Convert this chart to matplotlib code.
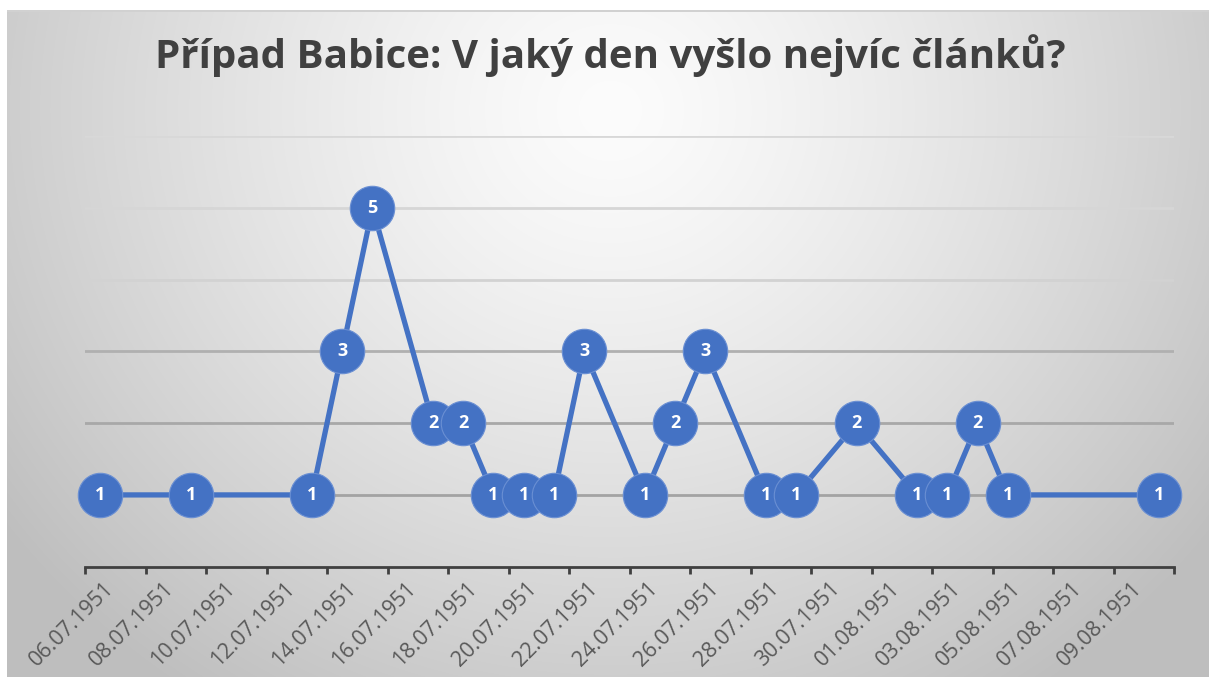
import numpy as np
import matplotlib
matplotlib.use("Agg")
import matplotlib.pyplot as plt
import matplotlib.dates as mdates
import matplotlib.transforms as mtransforms
from datetime import datetime, timedelta

# data
dates = ["06.07.1951", "09.07.1951", "13.07.1951", "14.07.1951", "15.07.1951",
         "17.07.1951", "18.07.1951", "19.07.1951", "20.07.1951", "21.07.1951",
         "22.07.1951", "24.07.1951", "25.07.1951", "26.07.1951", "28.07.1951",
         "29.07.1951", "31.07.1951", "02.08.1951", "03.08.1951", "04.08.1951",
         "05.08.1951", "10.08.1951"]
counts = [1, 1, 1, 3, 5, 2, 2, 1, 1, 1, 3, 1, 2, 3, 1, 1, 2, 1, 1, 2, 1, 1]

tick_labels = ["06.07.1951", "08.07.1951", "10.07.1951", "12.07.1951", "14.07.1951",
               "16.07.1951", "18.07.1951", "20.07.1951", "22.07.1951", "24.07.1951",
               "26.07.1951", "28.07.1951", "30.07.1951", "01.08.1951", "03.08.1951",
               "05.08.1951", "07.08.1951", "09.08.1951", "11.08.1951"]

title = "Případ Babice: V jaký den vyšlo nejvíc článků?"

BLUE = "#4472C4"
FONT = "Open Sans"


def parse(s):
    return datetime.strptime(s, "%d.%m.%Y")


# points sit in the middle of their day
x = mdates.date2num([parse(d) + timedelta(hours=12) for d in dates])
ticks = mdates.date2num([parse(t) for t in tick_labels])

W, H = 1209, 677
fig = plt.figure(figsize=(W / 100, H / 100), dpi=100)
fig.patch.set_facecolor("white")

# gradient background of the chart area
bg = fig.add_axes([0, 0, 1, 1], zorder=0)
yy, xx = np.mgrid[0:H, 0:W]
d = np.sqrt(((xx - 610) / 660.0) ** 2 + ((yy - 110) / 620.0) ** 2)
v = np.clip(252 - 52 * d ** 1.3, 190, 252) / 255.0
img = np.dstack([v, v, v])
img[:10, :, :] = 1.0
img[:, :7, :] = 1.0
img[10:12, 7:, :] = 0.82
bg.imshow(img, extent=[0, W, H, 0], aspect="auto", interpolation="bilinear")
bg.set_xlim(0, W)
bg.set_ylim(H, 0)
bg.axis("off")

ax = fig.add_axes([85 / W, 1 - 566.7 / H, (1174.3 - 85) / W, (566.7 - 136) / H], zorder=1)
ax.patch.set_alpha(0)

ax.set_xlim(ticks[0], ticks[-1])
ax.set_ylim(0, 6)

grid_colors = ["#a3a3a3", "#a8a8a8", "#b0b0b0", "#d2d2d2", "#d6d6d6", "#d8d8d8"]
for lvl, c in zip(range(1, 7), grid_colors):
    ax.axhline(lvl, color=c, lw=2, zorder=1)

ax.plot(x, counts, color=BLUE, lw=3.8, zorder=2, solid_capstyle="round", clip_on=False)
ax.plot(x, counts, "o", ms=32, color=BLUE, mec="#6a8fd3", mew=0.8, zorder=3, clip_on=False)
for xi, c in zip(x, counts):
    ax.text(xi, c, str(c), color="white", fontsize=13, fontweight="bold",
            family=FONT, ha="center", va="center", zorder=4)

for s in ["top", "right", "left"]:
    ax.spines[s].set_visible(False)
ax.spines["bottom"].set_color("#404040")
ax.spines["bottom"].set_linewidth(2)
ax.set_yticks([])

ax.set_xticks(ticks)
ax.set_xticklabels(tick_labels[:-1] + [""], rotation=45, ha="right",
                   rotation_mode="anchor", fontsize=15.5, family=FONT, color="#595959")
ax.tick_params(axis="x", length=5, width=2, color="#404040", pad=3)
offset = mtransforms.ScaledTranslation(18 / 100, 0, fig.dpi_scale_trans)
for lab in ax.get_xticklabels():
    lab.set_transform(lab.get_transform() + offset)

fig.text(610 / W, 1 - 68 / H, title, ha="center", va="baseline", fontsize=29,
         fontweight="bold", family=FONT, color="#404040")

fig.savefig("out.png", dpi=100)
